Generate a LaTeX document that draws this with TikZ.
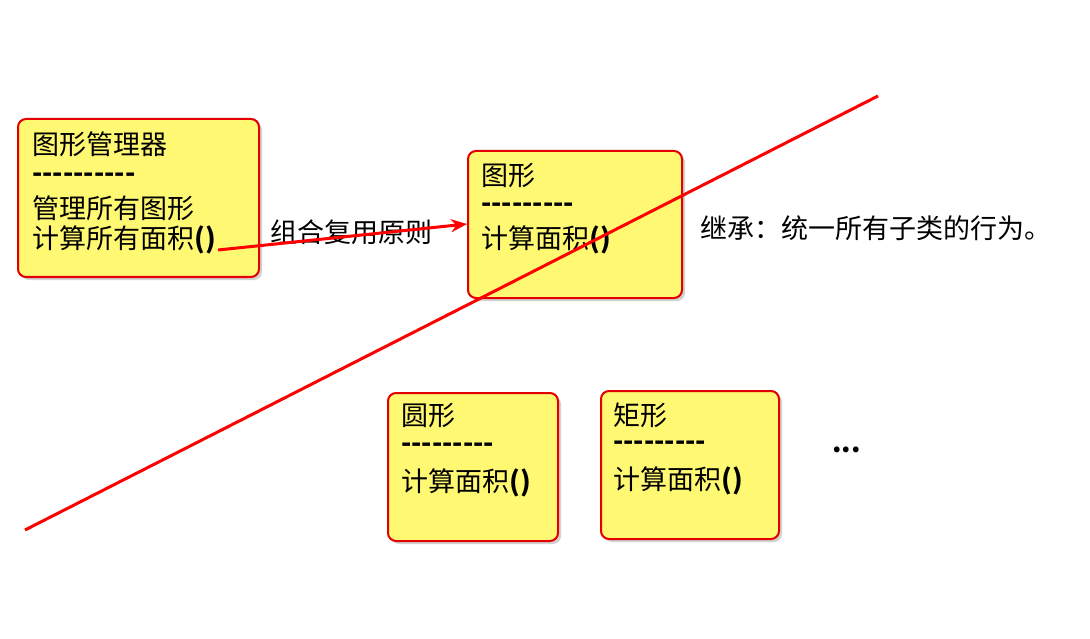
\documentclass[tikz,border=0pt]{standalone}
\usepackage{fontspec}
\setmainfont[Ligatures=NoCommon]{Noto Sans CJK SC}
\usetikzlibrary{shadows,arrows.meta}
\newcommand\dsh{-{}}
\begin{document}
\begin{tikzpicture}[x=1pt,y=-1pt,
  box/.style={draw=red!90!black,line width=2pt,fill=yellow!55,rounded corners=8pt,drop shadow={shadow xshift=3pt,shadow yshift=-3pt,opacity=0.35}},
  txt/.style={anchor=west,font=\fontsize{27}{30}\selectfont,inner sep=0pt}]
\useasboundingbox (0,0) rectangle (1090,639);
\fill[white] (0,0) rectangle (1090,639);
\node[box,minimum width=241pt,minimum height=158pt,anchor=north west] (b1) at (17,118) {};
\node[box,minimum width=214pt,minimum height=147pt,anchor=north west] (b2) at (467,150) {};
\node[box,minimum width=170pt,minimum height=148pt,anchor=north west] (b3) at (387,392) {};
\node[box,minimum width=178pt,minimum height=148pt,anchor=north west] (b4) at (600,390) {};
\node[txt] (t11) at (32,144) {图形管理器};
\node[txt] (t12) at (32,178) {\textbf{\dsh\dsh\dsh\dsh\dsh\dsh\dsh\dsh\dsh\dsh}};
\node[txt] (t13) at (32,208) {管理所有图形};
\node[txt] (t14) at (32,240) {计算所有面积\textbf{()}};
\node[txt] (t21) at (481,176) {图形};
\node[txt] (t22) at (481,208) {\textbf{\dsh\dsh\dsh\dsh\dsh\dsh\dsh\dsh\dsh}};
\node[txt] (t23) at (481,240) {计算面积\textbf{()}};
\node[txt] (t31) at (401,416) {圆形};
\node[txt] (t32) at (401,448) {\textbf{\dsh\dsh\dsh\dsh\dsh\dsh\dsh\dsh\dsh}};
\node[txt] (t33) at (401,483) {计算面积\textbf{()}};
\node[txt] (t41) at (613,415) {矩形};
\node[txt] (t42) at (613,446) {\textbf{\dsh\dsh\dsh\dsh\dsh\dsh\dsh\dsh\dsh}};
\node[txt] (t43) at (613,481) {计算面积\textbf{()}};
\node[txt] (dots) at (832,450) {\textbf{...}};
\node[txt] (inh) at (700,228) {继承：统一所有子类的行为。};
\node[txt] (lab) at (270,232) {组合复用原则};
\coordinate (s) at (218,250);
\coordinate (e) at (467,224);
\draw[red,line width=3pt,-{Stealth[length=16pt,width=13pt]}] (s) -- (e);
\coordinate (l1) at (25,530);
\coordinate (l2) at (878,96);
\draw[red,line width=3pt] (l1) -- (l2);
\end{tikzpicture}
\end{document}
